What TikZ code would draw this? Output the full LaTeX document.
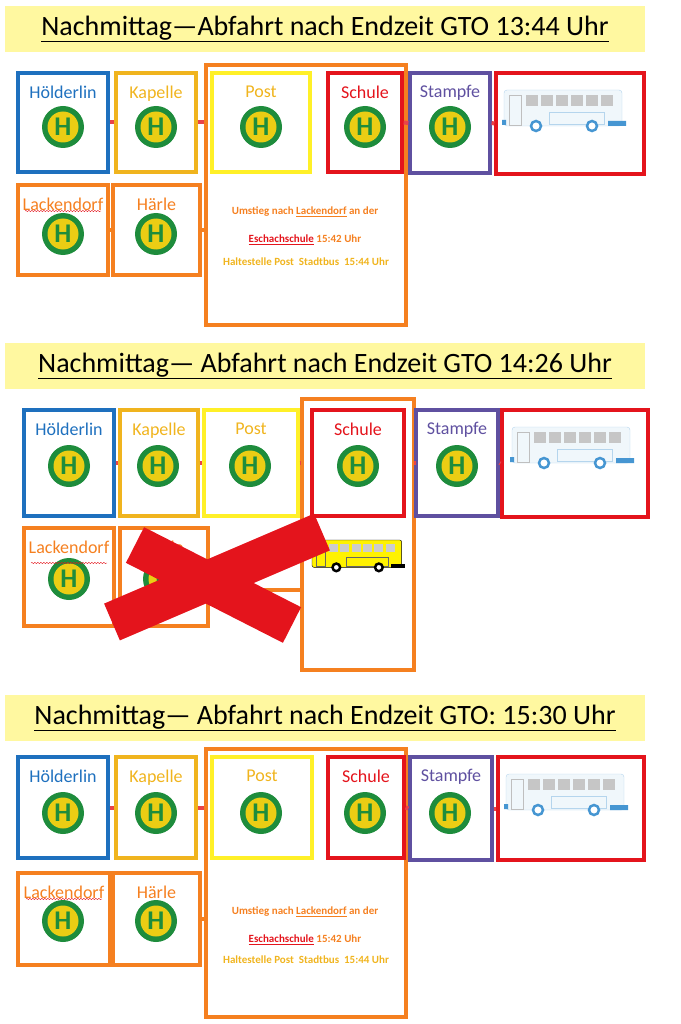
\documentclass[tikz,border=0pt]{standalone}
\usepackage{fontspec}
\setmainfont{Carlito}
\usetikzlibrary{decorations.pathmorphing}
\definecolor{hblue}{RGB}{30,112,190}
\definecolor{hgold}{RGB}{240,180,30}
\definecolor{hyel}{RGB}{255,240,40}
\definecolor{hred}{RGB}{228,20,28}
\definecolor{hpurp}{RGB}{95,80,160}
\definecolor{horange}{RGB}{245,128,32}
\definecolor{titlebg}{RGB}{255,248,160}
\definecolor{hgreen}{RGB}{30,140,60}
\definecolor{hsign}{RGB}{235,205,20}
\definecolor{busblue}{RGB}{70,150,210}
\tikzset{
  frame/.style={draw,line width=3.2pt,inner sep=0pt},
  link/.style={line width=4pt,draw=hred!80},
  olink/.style={line width=4pt,draw=horange},
  lbl/.style={font=\fontsize{18}{18}\selectfont},
  info/.style={font=\fontsize{11}{11}\selectfont\bfseries},
  title/.style={fill=titlebg,minimum height=46pt,inner sep=0pt,font=\fontsize{28}{28}\selectfont},
  squiggle/.style={draw=hred,decorate,decoration={snake,amplitude=0.7pt,segment length=3pt}}
}
% box from corner (x1,y1) to (x2,y2)
\newcommand{\stopbox}[7]{%
  \node[frame,draw=#6,minimum width=#4pt-#2pt,minimum height=#5pt-#3pt] (#1) at ({(#2+#4)/2},{(#3+#5)/2}) {};
  \node[lbl,text=#6,anchor=north] (#1l) at ({(#2+#4)/2},#3+9) {#7};}
\newcommand{\hsign}[2]{%
  \fill[hgreen] (#1,#2) circle (21);
  \fill[hsign] (#1,#2) circle (15.5);
  \node[text=hgreen,font=\fontsize{27}{27}\selectfont\bfseries] at (#1,#2) {H};}
\newcommand{\bus}[3]{%
  \begin{scope}[shift={(#1,#2)}]
    \draw[#3!40,fill=#3!8,rounded corners=3pt] (0,0) rectangle (118,36);
    \foreach \i in {0,...,5} \fill[gray!45] (22+\i*15,5) rectangle (34+\i*15,16);
    \draw[gray!50] (5,5) rectangle (17,35);
    \draw[#3!40] (45,22) rectangle (100,34);
    \fill[#3] (-2,30) rectangle (2,35) (104,31) rectangle (122,36);
    \filldraw[#3,fill=white,line width=2.5pt] (32,36) circle (5) (88,36) circle (5);
  \end{scope}}
\begin{document}
\begin{tikzpicture}[x=1pt,y=-1pt]
\useasboundingbox (0,0) rectangle (680,1024);
% ---- 13:44
\node[title,minimum width=640pt] (t1) at (325,29) {\underline{Nachmittag—Abfahrt nach Endzeit GTO 13:44 Uhr}};
\stopbox{o1}{206}{65}{406}{325}{horange}{}
\stopbox{a1}{18}{73}{108}{172}{hblue}{Hölderlin}
\stopbox{b1}{116}{73}{196}{172}{hgold}{Kapelle}
\stopbox{c1}{212}{73}{310}{172}{hyel}{\textcolor{hgold}{Post}}
\stopbox{d1}{328}{73}{402}{172}{hred}{Schule}
\stopbox{e1}{410}{73}{490}{173}{hpurp}{Stampfe}
\stopbox{f1}{496}{73}{644}{174}{hred}{}
\stopbox{g1}{18}{185}{108}{275}{horange}{Lackendorf}
\stopbox{h1}{113}{185}{200}{275}{horange}{Härle}
\draw[link] (a1.east) -- (b1.west);
\draw[link] (b1.east) -- (o1.west |- b1.east);
\draw[link] (d1.east) -- (e1.west);
\draw[link] (e1.east) -- (f1.west);
\draw[olink] (g1.east) -- (h1.west);
\draw[olink] (h1.east) -- (o1.west |- h1.east);
\foreach \x in {63,156,261,365,450} \hsign{\x}{127};
\foreach \x in {63,156} \hsign{\x}{234};
\bus{504}{90}{busblue}
\draw[squiggle] (25,211) -- (101,211);
\node[info,text=horange] (m1) at (305,212) {Umstieg nach \underline{Lackendorf} an der};
\node[info,text=hred] (n1) at (305,240) {\underline{Eschachschule} \textcolor{horange}{15:42 Uhr}};
\node[info,text=hgold] (p1) at (306,262) {Haltestelle Post\ \ Stadtbus\ \ 15:44 Uhr};
% ---- 14:26
\node[title,minimum width=640pt] (t2) at (325,366) {\underline{Nachmittag— Abfahrt nach Endzeit GTO 14:26 Uhr}};
\stopbox{o2}{302}{399}{414}{670}{horange}{}
\stopbox{a2}{24}{410}{114}{516}{hblue}{Hölderlin}
\stopbox{b2}{120}{410}{198}{516}{hgold}{Kapelle}
\stopbox{c2}{204}{410}{298}{516}{hyel}{\textcolor{hgold}{Post}}
\stopbox{d2}{312}{410}{404}{516}{hred}{Schule}
\stopbox{e2}{416}{410}{498}{516}{hpurp}{Stampfe}
\stopbox{f2}{502}{410}{648}{517}{hred}{}
\stopbox{g2}{24}{528}{114}{626}{horange}{Lackendorf}
\stopbox{h2}{120}{528}{208}{626}{horange}{Härle}
\draw[link] (a2.east) -- (b2.west);
\draw[link] (b2.east) -- (c2.west);
\draw[link] (c2.east) -- (o2.west |- c2.east);
\draw[link] (o2.east |- e2.west) -- (e2.west);
\draw[link] (e2.east) -- (f2.west);
\draw[olink] (h2.east |- 0,590) -- (o2.west |- 0,590);
\foreach \x in {69,158,250,358,457} \hsign{\x}{466};
\foreach \x in {69,164} \hsign{\x}{579};
\draw[squiggle] (31,563) -- (107,563);
\bus{512}{427}{busblue}
\begin{scope}[shift={(312,540)},scale=0.76]
  \draw[black,fill=yellow,rounded corners=2pt] (0,0) rectangle (118,36);
  \foreach \i in {0,...,5} \fill[gray!40] (22+\i*15,5) rectangle (34+\i*15,16);
  \draw[black!60] (5,5) rectangle (17,35);
  \draw[black!60] (45,22) rectangle (100,34);
  \fill[black] (104,32) rectangle (122,37);
  \filldraw[black,fill=white,line width=2.5pt] (32,36) circle (5) (88,36) circle (5);
\end{scope}
% the cross
\draw[hred,line width=40pt] (135,545) -- (292,625);
\draw[hred,line width=40pt] (112,622) -- (322,532);
% ---- 15:30
\node[title,minimum width=640pt] (t3) at (325,718) {\underline{Nachmittag— Abfahrt nach Endzeit GTO: 15:30 Uhr}};
\stopbox{o3}{206}{749}{406}{1017}{horange}{}
\stopbox{a3}{18}{757}{108}{858}{hblue}{Hölderlin}
\stopbox{b3}{116}{757}{196}{858}{hgold}{Kapelle}
\stopbox{c3}{212}{757}{312}{858}{hyel}{\textcolor{hgold}{Post}}
\stopbox{d3}{328}{757}{404}{858}{hred}{Schule}
\stopbox{e3}{410}{757}{492}{860}{hpurp}{Stampfe}
\stopbox{f3}{498}{757}{644}{860}{hred}{}
\stopbox{g3}{18}{873}{110}{965}{horange}{Lackendorf}
\stopbox{h3}{113}{873}{200}{965}{horange}{Härle}
\draw[link] (a3.east) -- (b3.west);
\draw[link] (b3.east) -- (o3.west |- b3.east);
\draw[link] (d3.east) -- (e3.west);
\draw[link] (e3.east) -- (f3.west);
\draw[olink] (g3.east) -- (h3.west);
\draw[olink] (h3.east) -- (o3.west |- h3.east);
\foreach \x in {63,156,261,365,450} \hsign{\x}{813};
\foreach \x in {63,156} \hsign{\x}{921};
\draw[squiggle] (26,899) -- (102,899);
\bus{506}{774}{busblue}
\node[info,text=horange] (m3) at (305,912) {Umstieg nach \underline{Lackendorf} an der};
\node[info,text=hred] (n3) at (305,940) {\underline{Eschachschule} \textcolor{horange}{15:42 Uhr}};
\node[info,text=hgold] (p3) at (306,960) {Haltestelle Post\ \ Stadtbus\ \ 15:44 Uhr};
\end{tikzpicture}
\end{document}
